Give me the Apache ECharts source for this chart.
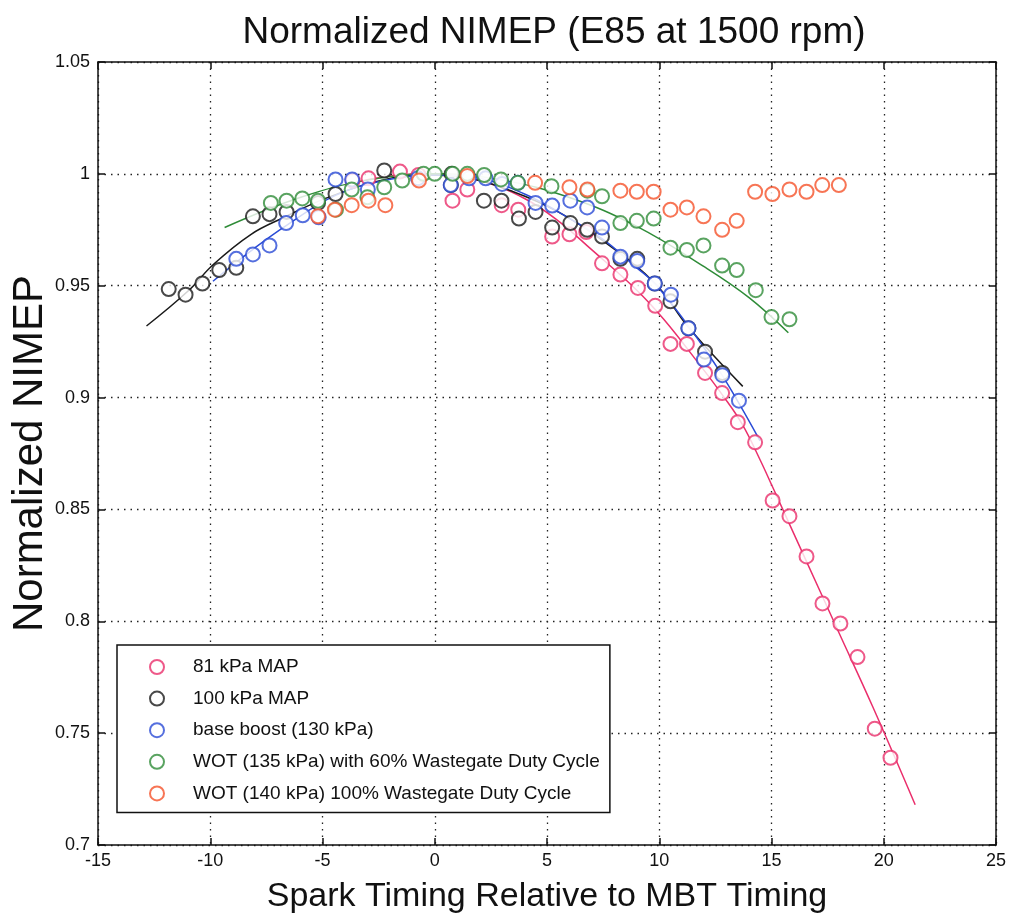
<!DOCTYPE html>
<html>
<head>
<meta charset="utf-8">
<script src="https://cdn.jsdelivr.net/npm/echarts@6/dist/echarts.min.js"></script>
<style>html,body{margin:0;padding:0;background:#fff;}#c{width:1012px;height:920px;}</style>
</head>
<body>
<div id="c"></div>
<script>
var xTicks = [-15, -10, -5, 0, 5, 10, 15, 20, 25];
var yTicks = [0.7, 0.75, 0.8, 0.85, 0.9, 0.95, 1, 1.05];

var seriesNames = [
  '81 kPa MAP',
  '100 kPa MAP',
  'base boost (130 kPa)',
  'WOT (135 kPa) with 60% Wastegate Duty Cycle',
  'WOT (140 kPa) 100% Wastegate Duty Cycle'
];
var seriesColors = ['#ea2f6c', '#1a1a1a', '#2a4bd6', '#2f8c38', '#f5532a'];

// measured points
var map81X = [-3.66,-2.95,-1.55,-0.72,0.79,1.45,2.98,3.72,5.23,6.0,6.75,7.45,8.27,9.05,9.82,10.5,11.23,12.04,12.8,13.5,14.27,15.05,15.8,16.56,17.27,18.07,18.83,19.6,20.3];
var map81Y = [0.997,0.998,1.001,0.9995,0.988,0.993,0.986,0.984,0.972,0.973,0.974,0.960,0.955,0.949,0.941,0.924,0.924,0.911,0.902,0.889,0.880,0.854,0.847,0.829,0.808,0.799,0.784,0.752,0.739];

var map100X = [-11.85,-11.1,-10.35,-9.6,-8.84,-8.1,-7.36,-6.6,-5.2,-4.42,-2.25,0.75,0.72,2.19,2.97,3.75,4.49,5.23,6.04,6.79,7.45,8.27,9.02,9.8,10.5,11.3,12.04,12.81];
var map100Y = [0.9485,0.946,0.951,0.957,0.958,0.981,0.982,0.983,0.987,0.991,1.0015,1.0,0.995,0.988,0.988,0.980,0.983,0.976,0.978,0.975,0.972,0.962,0.962,0.951,0.943,0.931,0.9205,0.911];

var boostX = [-8.84,-8.1,-7.36,-6.62,-5.88,-5.17,-4.42,-3.68,-2.98,-0.75,0.71,1.53,2.27,3.0,3.7,4.49,5.23,6.04,6.79,7.45,8.27,9.02,9.8,10.52,11.3,11.99,12.81,13.55];
var boostY = [0.962,0.964,0.968,0.978,0.9815,0.9806,0.9975,0.9975,0.993,0.998,0.995,0.998,0.998,0.9955,0.996,0.987,0.9858,0.988,0.985,0.976,0.963,0.961,0.951,0.946,0.931,0.917,0.910,0.8986];

var wot60X = [-7.3,-6.6,-5.9,-5.2,-4.4,-3.7,-3.0,-2.25,-1.45,-0.5,0,0.8,1.45,2.2,2.95,3.7,5.2,6.8,7.45,8.27,9.0,9.75,10.5,11.23,11.97,12.8,13.45,14.3,15.0,15.8];
var wot60Y = [0.987,0.988,0.989,0.988,0.984,0.993,0.9895,0.994,0.997,1.0,1.0,1.0,1.0,0.9995,0.9975,0.996,0.9945,0.9925,0.990,0.978,0.979,0.980,0.967,0.966,0.968,0.959,0.957,0.948,0.936,0.935];

var wot100X = [-5.2,-4.45,-3.7,-2.95,-2.2,-0.7,1.45,4.47,6.0,6.8,8.27,9.0,9.75,10.5,11.23,11.97,12.8,13.45,14.27,15.04,15.8,16.56,17.26,18.0];
var wot100Y = [0.981,0.984,0.986,0.988,0.986,0.997,0.999,0.996,0.994,0.993,0.9925,0.992,0.992,0.984,0.985,0.981,0.975,0.979,0.992,0.991,0.993,0.992,0.995,0.995];

// fitted curves
var fit81X = [-4,-2,0,2,4,5.5,7,9,10.2,11.7,12.9,13.7,14.5,15.05,16.5,18,19.5,21.4];
var fit81Y = [0.995,0.999,1.0,0.997,0.989,0.979,0.966,0.948,0.935,0.916,0.900,0.888,0.872,0.860,0.828,0.795,0.762,0.718];

var fit100X = [-12.84,-11,-9.84,-8.18,-6.7,-4.92,-2.7,-0.7,1.5,3.5,5.5,7.5,9.82,11.3,13.72];
var fit100Y = [0.932,0.9475,0.9597,0.973,0.9806,0.9888,0.9963,0.9995,0.998,0.992,0.983,0.970,0.951,0.9314,0.905];

var fitBoostX = [-9.88,-8,-6.6,-4.4,-2.25,0,2,4,5.5,7.45,9,9.8,11.3,12.8,14.49];
var fitBoostY = [0.952,0.967,0.977,0.9905,0.997,0.9995,0.998,0.991,0.983,0.971,0.958,0.951,0.932,0.910,0.8806];

var fit60X = [-9.36,-6,-3,0,3,6,9,12,14,15.75];
var fit60Y = [0.976,0.9894,0.9972,1.0,0.9972,0.9894,0.9765,0.9585,0.9447,0.929];

function pairs(xs, ys) { return xs.map(function (x, i) { return [x, ys[i]]; }); }

var pointSets = [pairs(map81X, map81Y), pairs(map100X, map100Y), pairs(boostX, boostY), pairs(wot60X, wot60Y), pairs(wot100X, wot100Y)];
var fitSets = [pairs(fit81X, fit81Y), pairs(fit100X, fit100Y), pairs(fitBoostX, fitBoostY), pairs(fit60X, fit60Y)];

var FONT = '"Liberation Sans", Arial, sans-serif';
var series = [];
fitSets.forEach(function (d, i) {
  series.push({
    type: 'line', data: d, smooth: 0.4, showSymbol: false, silent: true,
    lineStyle: { color: seriesColors[i], width: 1.5 }, z: 2
  });
});
pointSets.forEach(function (d, i) {
  series.push({
    name: seriesNames[i], type: 'scatter', data: d, symbol: 'emptyCircle', symbolSize: 14,
    itemStyle: { color: seriesColors[i], borderColor: seriesColors[i], borderWidth: 1.9 }, z: 3
  });
});

var axisBase = {
  axisLine: { onZero: false, lineStyle: { color: '#111', width: 1.5 } },
  axisTick: { inside: true, length: 7, lineStyle: { color: '#111', width: 1.5 } }
};

var chart = echarts.init(document.getElementById('c'), null, { renderer: 'canvas' });
chart.setOption({
  animation: false,
  backgroundColor: '#fff',
  title: {
    text: 'Normalized NIMEP (E85 at 1500 rpm)', left: 549, top: 9, textAlign: 'center',
    textStyle: { fontFamily: FONT, fontSize: 37, fontWeight: 'normal', color: '#111' }
  },
  legend: {
    data: seriesNames, orient: 'vertical', left: 117, top: 645,
    itemWidth: 14, itemHeight: 14, itemGap: 11.6, icon: 'emptyCircle',
    backgroundColor: '#fff', borderColor: '#111', borderWidth: 1.5, borderRadius: 0,
    padding: [12, 10, 9, 32],
    textStyle: { fontFamily: FONT, fontSize: 19, lineHeight: 20, color: '#111', padding: [0, 0, 0, 24] }
  },
  grid: { left: 98, top: 62, width: 898, height: 783, show: false, containLabel: false, outerBoundsMode: 'none' },
  xAxis: [Object.assign({
    type: 'value', min: xTicks[0], max: xTicks[xTicks.length - 1], interval: xTicks[1] - xTicks[0],
    axisLabel: { fontFamily: FONT, fontSize: 18, color: '#111', margin: 7 },
    splitLine: { show: true, lineStyle: { color: '#222', type: [1.5, 5], width: 1.3 } },
    name: 'Spark Timing Relative to MBT Timing', nameLocation: 'middle', nameGap: 35,
    nameTextStyle: { fontFamily: FONT, fontSize: 34, color: '#111' }
  }, axisBase), Object.assign({
    type: 'value', position: 'top', min: xTicks[0], max: xTicks[xTicks.length - 1], interval: xTicks[1] - xTicks[0],
    axisLabel: { show: false }, splitLine: { show: false }
  }, axisBase)],
  yAxis: [Object.assign({
    type: 'value', min: yTicks[0], max: yTicks[yTicks.length - 1], interval: 0.05,
    axisLabel: { fontFamily: FONT, fontSize: 18, color: '#111', margin: 8,
      formatter: function (v) { return String(+v.toFixed(2)); } },
    splitLine: { show: true, lineStyle: { color: '#222', type: [1.5, 5], width: 1.3 } },
    name: 'Normalized NIMEP', nameLocation: 'middle', nameGap: 47, nameRotate: 90, nameMoveOverlap: false,
    nameTextStyle: { fontFamily: FONT, fontSize: 42, color: '#111' }
  }, axisBase), Object.assign({
    type: 'value', position: 'right', min: yTicks[0], max: yTicks[yTicks.length - 1], interval: 0.05,
    axisLabel: { show: false }, splitLine: { show: false }
  }, axisBase)],
  series: series
});
</script>
</body>
</html>
